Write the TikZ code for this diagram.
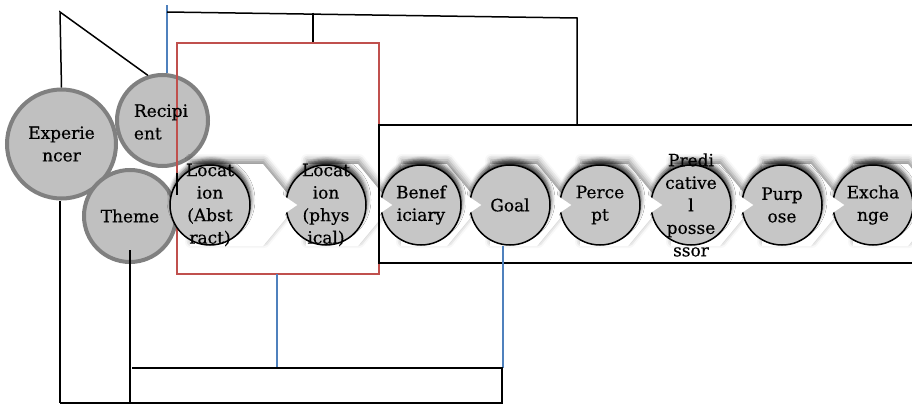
\documentclass[tikz,border=0pt]{standalone}
\usepackage{fontspec}
\setmainfont{DejaVu Serif}
\newfontfamily\lblfont[FakeBold=0.5]{DejaVu Serif}
\usetikzlibrary{shadows.blur}
\definecolor{roleFill}{HTML}{C0C0C0}
\definecolor{roleEdge}{HTML}{808080}
\definecolor{stepFill}{HTML}{C6C6C6}
\definecolor{boxRed}{HTML}{C0504D}
\definecolor{linkBlue}{HTML}{4F81BD}

\begin{document}
\begin{tikzpicture}[x=1pt,y=-1pt,
  bigrole/.style={circle, draw=roleEdge, line width=4pt, fill=roleFill, inner sep=0pt},
  steprole/.style={circle, draw=black, line width=1.5pt, fill=stepFill, inner sep=0pt,
    minimum size=80pt,
    blur shadow={shadow xshift=1pt, shadow yshift=5pt, shadow blur radius=4pt, shadow opacity=75}},
  chev/.style={fill=white, draw=none,
    blur shadow={shadow xshift=1pt, shadow yshift=4pt, shadow blur radius=6pt, shadow opacity=45}},
  tip/.style={fill=white, draw=none},
  lbl/.style={font=\lblfont\fontsize{17}{22.5}\selectfont, align=center, inner sep=0pt},
  link/.style={line width=1.5pt, black},
  bluelink/.style={line width=1.5pt, linkBlue},
  redbox/.style={line width=1.5pt, boxRed}]

\useasboundingbox (0,0) rectangle (912,404);

% large role circles
\node[bigrole, minimum size=109pt] (exp) at (61.5,144) {};
\node[bigrole, minimum size=91pt] (rec) at (162.5,120.5) {};
\node[bigrole, minimum size=92pt] (thm) at (130,216) {};

% red grouping box
\draw[redbox] (177,43) rectangle (379,274);

% chevron ribbon behind the process circles
\foreach \c/\n in {210/285, 326/380, 421/469, 510/559, 600/650, 691/742, 782/833, 873/930} {
  \path[chev] (\c-20,164) -- (\n-22,164) -- (\n+12,205) -- (\n-22,246) -- (\c-20,246) -- cycle;
}

% process circles
\node[steprole] (locA) at (210,205) {};
\node[steprole] (locP) at (326,205) {};
\node[steprole] (ben) at (421,205) {};
\node[steprole] (goal) at (510,205) {};
\node[steprole] (perc) at (600,205) {};
\node[steprole] (pred) at (691,205) {};
\node[steprole] (purp) at (782,205) {};
\node[steprole] (exch) at (873,205) {};

% arrow tips over the left edge of each following circle
\foreach \a/\b in {locA/locP, locP/ben, ben/goal, goal/perc, perc/pred, pred/purp, purp/exch} {
  \path[tip] ([xshift=-4pt,yshift=11pt]\b.west) -- ([xshift=12pt]\b.west) -- ([xshift=-4pt,yshift=-11pt]\b.west) -- cycle;
}

% black box round the right-hand group
\coordinate (bbTL) at (379,125);
\coordinate (bbBL) at (379,263);
\draw[link] (912,125) -- (bbTL) -- (bbBL) -- (912,263);

% top connectors
\coordinate (tl) at (60,12);
\draw[link] (exp.north) -- (tl) -- (rec.108);
\coordinate (bTop) at (167,5);
\draw[bluelink] (rec.north -| bTop) -- (bTop);
\coordinate (tA) at (167,12);
\coordinate (tB) at (577,18);
\coordinate (tM) at (313,12.7);
\draw[link] (tA) -- (tB) -- (577,125);
\draw[link] (tM) -- (313,42);
\draw[link] (177,173) -- (177,195);

% bottom connectors
\coordinate (bL) at (60,403);
\coordinate (bR) at (502,403);
\coordinate (mR) at (502,368);
\coordinate (mL) at (132,368);
\draw[bluelink] (277,274) -- (277,368);
\draw[bluelink] (goal.south -| 503,0) -- (503,368);
\draw[link] (mL) -- (mR) -- (bR) -- (bL);
\draw[link] (exp.south -| bL) -- (bL);
\draw[link] (130,250) -- (130,403);

% labels
\node[lbl] at (exp) {Experie\\ncer};
\node[lbl, align=left] at (161,122) {Recipi\\ent};
\node[lbl] at (thm) {Theme};
\node[lbl] at (locA) {Locat\\ion\\(Abst\\ract)};
\node[lbl] at (locP) {Locat\\ion\\(phys\\ical)};
\node[lbl] at (ben) {Benef\\iciary};
\node[lbl] at (goal) {Goal};
\node[lbl] at (perc) {Perce\\pt};
\node[lbl] at (pred) {Predi\\cative\\l\\posse\\ssor};
\node[lbl] at (purp) {Purp\\ose};
\node[lbl] at (exch) {Excha\\nge};
\end{tikzpicture}
\end{document}
